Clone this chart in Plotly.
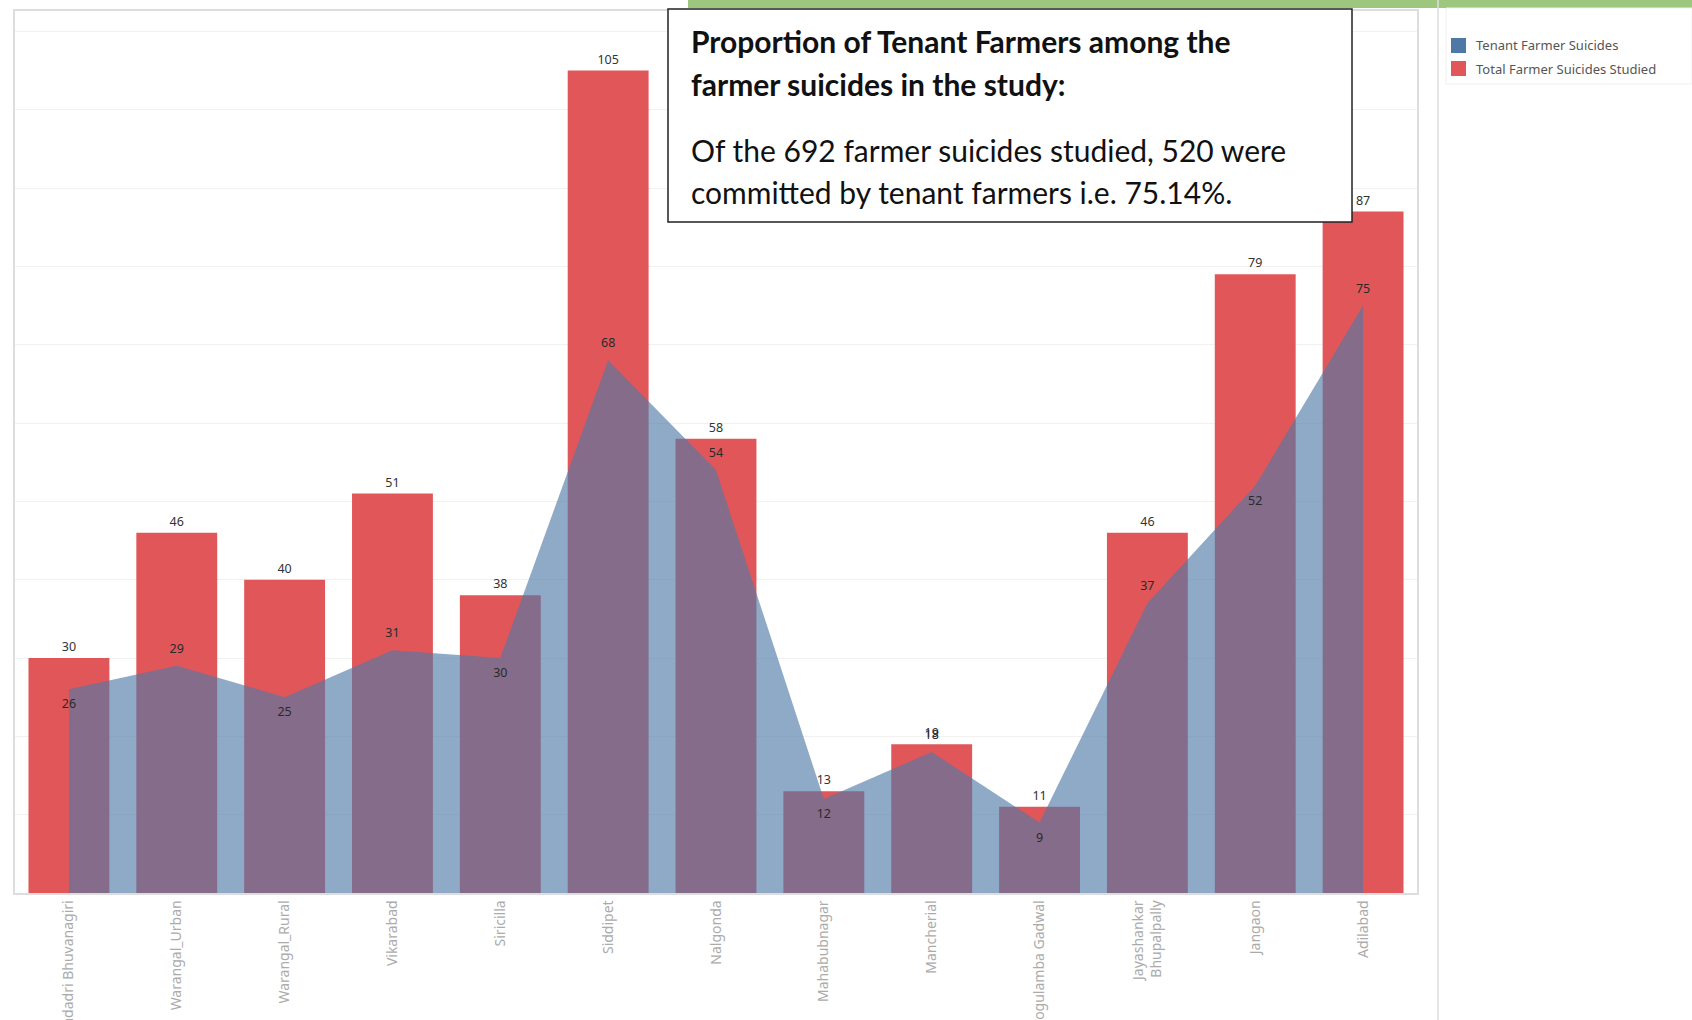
import plotly.graph_objects as go

districts = ["Yadadri Bhuvanagiri", "Warangal_Urban", "Warangal_Rural", "Vikarabad", "Siricilla",
             "Siddipet", "Nalgonda", "Mahabubnagar", "Mancherial", "Jogulamba Gadwal",
             "Jayashankar<br>Bhupalpally", "Jangaon", "Adilabad"]
total_suicides = [30, 46, 40, 51, 38, 105, 58, 13, 19, 11, 46, 79, 87]
tenant_suicides = [26, 29, 25, 31, 30, 68, 54, 12, 18, 9, 37, 52, 75]
tenant_label_pos = ["bottom center", "top center", "bottom center", "top center", "bottom center",
                    "top center", "top center", "bottom center", "top center", "bottom center",
                    "top center", "bottom center", "top center"]

W_FIG, H_FIG = 1692, 1020
L, R, T, B = 15, 1417, 11, 893
PW, PH = R - L, B - T

def px(x):
    return (x - L) / PW

def py(y):
    return (B - y) / PH

fig = go.Figure()
fig.add_trace(go.Bar(
    x=districts, y=total_suicides, name="Total Farmer Suicides Studied",
    marker=dict(color="#e15759", line=dict(width=0)), width=0.75,
    text=total_suicides, textposition="outside",
    textfont=dict(family="Noto Sans", size=12.5, color="#333333"),
    cliponaxis=False, showlegend=False,
))
fig.add_trace(go.Scatter(
    x=districts, y=tenant_suicides, name="Tenant Farmer Suicides",
    mode="lines+markers+text", fill="tozeroy",
    fillcolor="rgba(78,121,167,0.63)",
    line=dict(color="rgba(78,121,167,0.0)", width=0),
    marker=dict(size=14, color="rgba(0,0,0,0)", line=dict(width=0)),
    text=tenant_suicides, textposition=tenant_label_pos,
    textfont=dict(family="Noto Sans", size=12.5, color="#2a2a2a"),
    cliponaxis=False, showlegend=False,
))

shapes = []
shapes.append(dict(type="rect", xref="paper", yref="paper", x0=px(688), x1=px(1692), y0=py(0), y1=py(8),
                   fillcolor="#9cc77c", line=dict(width=0), layer="above"))
shapes.append(dict(type="line", xref="paper", yref="paper", x0=px(1438), x1=px(1438), y0=py(0), y1=py(1020),
                   line=dict(color="#dddddd", width=1.5), layer="above"))
shapes.append(dict(type="rect", xref="paper", yref="paper", x0=px(1446), x1=px(1692), y0=py(8), y1=py(84),
                   fillcolor="rgba(0,0,0,0)", line=dict(color="#f0f0f0", width=1), layer="above"))
shapes.append(dict(type="rect", xref="paper", yref="paper", x0=px(1451), x1=px(1466), y0=py(38), y1=py(53),
                   fillcolor="#4e79a7", line=dict(width=0), layer="above"))
shapes.append(dict(type="rect", xref="paper", yref="paper", x0=px(1451), x1=px(1466), y0=py(61), y1=py(76),
                   fillcolor="#e15759", line=dict(width=0), layer="above"))
shapes.append(dict(type="rect", xref="paper", yref="paper", x0=px(668), x1=px(1352), y0=py(9), y1=py(222),
                   fillcolor="white", line=dict(color="#222222", width=1.5), layer="above"))

annotations = []
for txt, yy in [("Tenant Farmer Suicides", 45.5), ("Total Farmer Suicides Studied", 68.5)]:
    annotations.append(dict(text=txt, xref="paper", yref="paper", x=px(1474), y=py(yy),
                            xanchor="left", yanchor="middle", showarrow=False,
                            font=dict(family="Noto Sans", size=13, color="#555555")))
box_lines = [
    ("<b>Proportion of Tenant Farmers among the</b>", 41),
    ("<b>farmer suicides in the study:</b>", 84),
    ("Of the 692 farmer suicides studied, 520 were", 150),
    ("committed by tenant farmers i.e. 75.14%.", 192),
]
for txt, yy in box_lines:
    annotations.append(dict(text=txt, xref="paper", yref="paper", x=px(689), y=py(yy),
                            xanchor="left", yanchor="middle", showarrow=False,
                            font=dict(family="Lato", size=30, color="#111111")))

fig.update_layout(
    width=W_FIG, height=H_FIG,
    margin=dict(l=L, r=W_FIG - R, t=T, b=H_FIG - B, pad=0, autoexpand=False),
    paper_bgcolor="white", plot_bgcolor="white",
    barmode="overlay", showlegend=False,
    shapes=shapes, annotations=annotations,
    xaxis=dict(type="category", range=[-0.5, 12.5], tickangle=-90, automargin=False,
               tickfont=dict(family="Noto Sans", size=14, color="#ababab"),
               showgrid=False, showline=True, linecolor="#dddddd", linewidth=1.5, mirror=True,
               ticks="", ticklen=0, fixedrange=True),
    yaxis=dict(range=[0, 112.6], dtick=10, showticklabels=False, showgrid=True, automargin=False,
               gridcolor="#f1f1f1", gridwidth=1, zeroline=False,
               showline=True, linecolor="#dddddd", linewidth=1.5, mirror=True, ticks=""),
)

fig.write_html("out.html")
